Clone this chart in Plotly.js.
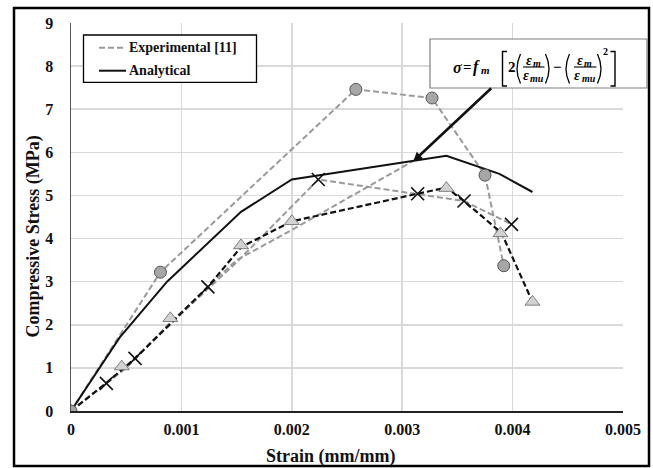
<!DOCTYPE html>
<html>
<head>
<meta charset="utf-8">
<script src="https://cdn.plot.ly/plotly-3.0.1.min.js"></script>
<style>
html,body{margin:0;padding:0;background:#fff;}
#chart{width:653px;height:468px;}
</style>
</head>
<body>
<div id="chart"></div>
<script>
// ---- Data ----
const circleStrain = [0, 0.00081, 0.00258, 0.00327, 0.00375, 0.00392];
const circleStress = [0, 3.22, 7.46, 7.26, 5.47, 3.37];

const grayA_Strain = [0, 0.0005, 0.0009, 0.0015, 0.002, 0.0031];
const grayA_Stress = [0, 1.0, 2.05, 3.5, 4.2, 5.8];

const grayB_Strain = [0, 0.00045, 0.0011, 0.0015, 0.00224, 0.00356, 0.00399];
const grayB_Stress = [0, 0.9, 2.5, 3.45, 5.37, 4.87, 4.33];

const blackDashStrain = [0, 0.00032, 0.00058, 0.00124, 0.00154, 0.002, 0.00314, 0.0034, 0.00356, 0.0039, 0.00418];
const blackDashStress = [0, 0.65, 1.22, 2.88, 3.8, 4.4, 5.04, 5.18, 4.87, 4.13, 2.53];

const triStrain = [0, 0.00046, 0.0009, 0.00154, 0.002, 0.0034, 0.00389, 0.00418];
const triStress = [0, 1.03, 2.15, 3.84, 4.4, 5.17, 4.12, 2.53];

const crossStrain = [0.00032, 0.00058, 0.00124, 0.00224, 0.00314, 0.00356, 0.00399];
const crossStress = [0.64, 1.22, 2.88, 5.37, 5.04, 4.87, 4.33];

const analyticalStrain = [0, 0.00044, 0.00087, 0.00154, 0.002, 0.0034, 0.00388, 0.00418];
const analyticalStress = [0, 1.7, 3.0, 4.62, 5.37, 5.92, 5.5, 5.08];

const xTickVals = [0, 0.001, 0.002, 0.003, 0.004, 0.005];
const xTickText = ['0', '0.001', '0.002', '0.003', '0.004', '0.005'];
const yTickVals = [0, 1, 2, 3, 4, 5, 6, 7, 8, 9];

const legendLabels = ['Experimental [11]', 'Analytical'];
const xTitle = 'Strain (mm/mm)';
const yTitle = 'Compressive Stress (MPa)';

// arrow from equation box to analytical curve (data coords)
const arrowTail = [0.00382, 7.52];
const arrowHead = [0.0031, 5.79];

// ---- Layout helpers (pixel -> paper) ----
const L = 71, R = 623, T = 23, B = 411;
const PX = p => (p - L) / (R - L);
const PY = p => (B - p) / (B - T);

const SERIF = '"Liberation Serif", "Times New Roman", Times, serif';
const grayDash = {color: '#9a9a9a', width: 2, dash: '6px,3px'};

const traces = [
  {x: grayA_Strain, y: grayA_Stress, mode: 'lines', line: grayDash, hoverinfo: 'skip'},
  {x: grayB_Strain, y: grayB_Stress, mode: 'lines', line: grayDash, hoverinfo: 'skip'},
  {x: circleStrain, y: circleStress, mode: 'lines', line: grayDash},
  {x: blackDashStrain, y: blackDashStress, mode: 'lines', line: {color: '#111', width: 2.2, dash: '6px,3px'}},
  {x: analyticalStrain, y: analyticalStress, mode: 'lines', line: {color: '#111', width: 2}},
  {x: triStrain, y: triStress, mode: 'markers',
   marker: {symbol: 'triangle-up', size: 13, color: '#d2d2d2', line: {color: '#666', width: 0.8}}},
  {x: crossStrain, y: crossStress, mode: 'markers',
   marker: {symbol: 'x-thin-open', size: 13, color: '#111', line: {color: '#111', width: 1.6}}},
  {x: circleStrain, y: circleStress, mode: 'markers',
   marker: {symbol: 'circle', size: 12, color: '#a6a6a6', line: {color: '#555', width: 1}}}
];

const shapes = [];
const annotations = [];

// outer frame
shapes.push({type: 'rect', xref: 'paper', yref: 'paper', x0: PX(14), x1: PX(649), y0: PY(466), y1: PY(8),
  line: {color: '#000', width: 2.5}, fillcolor: 'rgba(0,0,0,0)', layer: 'above'});

// legend box
shapes.push({type: 'rect', xref: 'paper', yref: 'paper', x0: PX(83.5), x1: PX(256.5), y0: PY(82.3), y1: PY(35),
  line: {color: '#000', width: 1.3}, fillcolor: '#fff', layer: 'above'});
shapes.push({type: 'line', xref: 'paper', yref: 'paper', x0: PX(99), x1: PX(124), y0: PY(47.7), y1: PY(47.7),
  line: grayDash, layer: 'above'});
shapes.push({type: 'line', xref: 'paper', yref: 'paper', x0: PX(99), x1: PX(126), y0: PY(70.7), y1: PY(70.7),
  line: {color: '#111', width: 2}, layer: 'above'});
annotations.push({xref: 'paper', yref: 'paper', x: PX(126.5), y: PY(47.7), xanchor: 'left', yanchor: 'middle',
  text: '<b>' + legendLabels[0] + '</b>', showarrow: false, font: {family: SERIF, size: 14, color: '#111'}});
annotations.push({xref: 'paper', yref: 'paper', x: PX(126.5), y: PY(70.7), xanchor: 'left', yanchor: 'middle',
  text: '<b>' + legendLabels[1] + '</b>', showarrow: false, font: {family: SERIF, size: 14, color: '#111'}});

// equation box
shapes.push({type: 'rect', xref: 'paper', yref: 'paper', x0: PX(430), x1: PX(647), y0: PY(88), y1: PY(39),
  line: {color: '#7f7f7f', width: 1.2}, fillcolor: '#fff', layer: 'above'});

function eqText(t, px, py, size) {
  annotations.push({xref: 'paper', yref: 'paper', x: PX(px), y: PY(py), xanchor: 'center', yanchor: 'middle',
    text: t, showarrow: false, font: {family: SERIF, size: size, color: '#000'}});
}
function bracketL(x0, x1, yt, yb) {
  shapes.push({type: 'path', xref: 'paper', yref: 'paper', layer: 'above', line: {color: '#000', width: 1.4},
    path: 'M' + PX(x1) + ',' + PY(yt) + ' L' + PX(x0) + ',' + PY(yt) + ' L' + PX(x0) + ',' + PY(yb) + ' L' + PX(x1) + ',' + PY(yb)});
}
function paren(xOuter, xInner, yt, yb) {
  const ym = (yt + yb) / 2;
  shapes.push({type: 'path', xref: 'paper', yref: 'paper', layer: 'above', line: {color: '#000', width: 1.3},
    path: 'M' + PX(xInner) + ',' + PY(yt) + ' Q' + PX(xOuter - (xInner - xOuter)) + ',' + PY(ym) + ' ' + PX(xInner) + ',' + PY(yb)});
}
function fracBar(x0, x1, y) {
  shapes.push({type: 'line', xref: 'paper', yref: 'paper', layer: 'above', line: {color: '#000', width: 1.1},
    x0: PX(x0), x1: PX(x1), y0: PY(y), y1: PY(y)});
}

eqText('<b><i>σ</i></b>', 457, 67, 16);
eqText('<b>=</b>', 467.5, 67, 15);
eqText('<b><i>f</i></b>', 476, 67, 16);
eqText('<b><i>m</i></b>', 485, 70, 11);
bracketL(502.5, 507, 51.5, 86);
eqText('<b>2</b>', 511.5, 67, 15);
paren(517, 520.5, 54, 83.5);
// fraction 1
eqText('<b><i>ε</i></b>', 528.5, 60.5, 14);
eqText('<b><i>m</i></b>', 536.5, 63.5, 10);
fracBar(523, 544.5, 67);
eqText('<b><i>ε</i></b>', 525.5, 75.5, 14);
eqText('<b><i>mu</i></b>', 537, 78.5, 10);
paren(549, 545.5, 54, 83.5);
eqText('<b>−</b>', 557.5, 67, 15);
paren(566, 569.5, 54, 83.5);
// fraction 2
eqText('<b><i>ε</i></b>', 579.5, 60.5, 14);
eqText('<b><i>m</i></b>', 587.5, 63.5, 10);
fracBar(574, 596.5, 67);
eqText('<b><i>ε</i></b>', 577, 75.5, 14);
eqText('<b><i>mu</i></b>', 588.5, 78.5, 10);
paren(601, 597.5, 54, 83.5);
eqText('<b>2</b>', 605.5, 51.5, 10);
// right bracket
shapes.push({type: 'path', xref: 'paper', yref: 'paper', layer: 'above', line: {color: '#000', width: 1.4},
  path: 'M' + PX(610.5) + ',' + PY(51.5) + ' L' + PX(615) + ',' + PY(51.5) + ' L' + PX(615) + ',' + PY(86) + ' L' + PX(610.5) + ',' + PY(86)});

// arrow
annotations.push({x: arrowHead[0], y: arrowHead[1], ax: arrowTail[0], ay: arrowTail[1], xref: 'x', yref: 'y',
  axref: 'x', ayref: 'y', text: '', showarrow: true, arrowhead: 2, arrowsize: 0.7, arrowwidth: 2.6, arrowcolor: '#111', standoff: 0});

// axis titles
annotations.push({xref: 'paper', yref: 'paper', x: PX(330), y: PY(456), xanchor: 'center', yanchor: 'middle',
  text: '<b>' + xTitle + '</b>', showarrow: false, font: {family: SERIF, size: 18, color: '#111'}});
annotations.push({xref: 'paper', yref: 'paper', x: PX(33), y: PY(236.5), xanchor: 'center', yanchor: 'middle',
  textangle: -90, text: '<b>' + yTitle + '</b>', showarrow: false, font: {family: SERIF, size: 18, color: '#111'}});

const layout = {
  width: 653, height: 468,
  margin: {l: L, r: 653 - R, t: T, b: 468 - B, pad: 0},
  paper_bgcolor: '#fff', plot_bgcolor: '#fff',
  showlegend: false,
  font: {family: SERIF, size: 16, color: '#111'},
  xaxis: {
    range: [0, 0.005], tickvals: xTickVals, ticktext: xTickText.map(t => '<b>' + t + '</b>'),
    showgrid: true, gridcolor: '#d9d9d9', gridwidth: 1.5, zeroline: false,
    showline: true, linecolor: '#222', linewidth: 1.5, ticks: '', ticklabelstandoff: 3,
    tickfont: {family: SERIF, size: 16, color: '#111'}, fixedrange: true
  },
  yaxis: {
    range: [0, 9], tickvals: yTickVals, ticktext: yTickVals.map(v => '<b>' + v + '</b>'),
    showgrid: true, gridcolor: '#d9d9d9', gridwidth: 1.5, zeroline: false,
    showline: true, linecolor: '#555', linewidth: 1.5, ticks: '', ticklabelstandoff: 13,
    tickfont: {family: SERIF, size: 16, color: '#111'}, fixedrange: true
  },
  shapes: shapes,
  annotations: annotations
};

Plotly.newPlot('chart', traces, layout, {displayModeBar: false, staticPlot: true});
</script>
</body>
</html>
